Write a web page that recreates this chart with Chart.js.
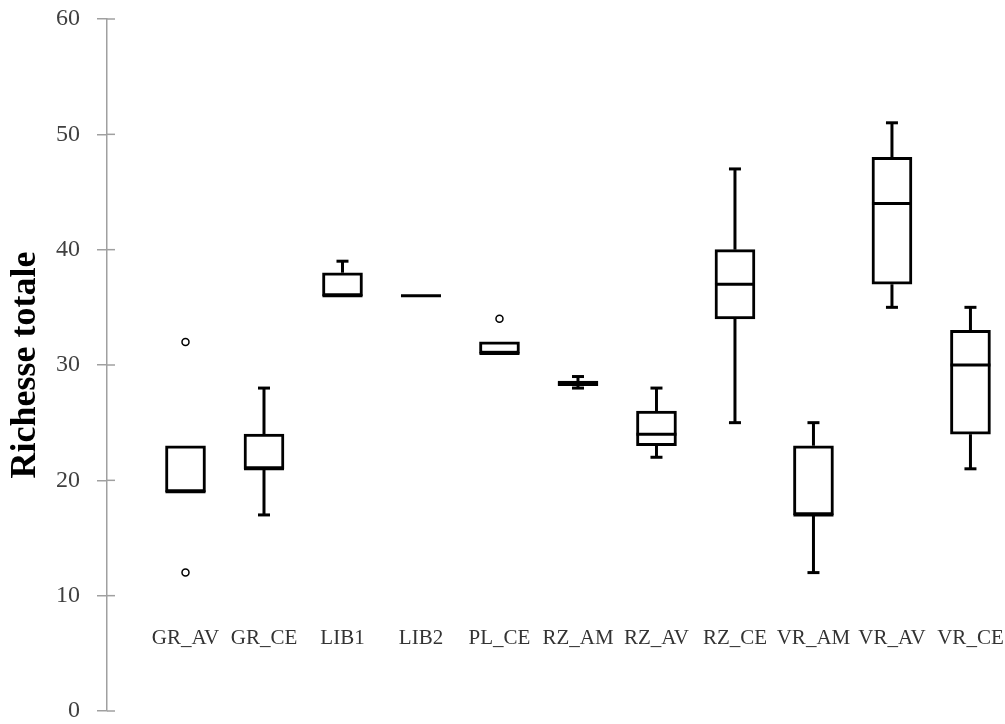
<!DOCTYPE html>
<html>
<head>
<meta charset="utf-8">
<script src="https://cdn.jsdelivr.net/npm/chart.js@4/dist/chart.umd.min.js"></script>
<style>
  html, body { margin: 0; padding: 0; background: #fff; }
  #wrap { width: 1005px; height: 724px; }
</style>
</head>
<body>
<div id="wrap"><canvas id="chart"></canvas></div>
<script>
const sites = ['GR_AV', 'GR_CE', 'LIB1', 'LIB2', 'PL_CE', 'RZ_AM', 'RZ_AV', 'RZ_CE', 'VR_AM', 'VR_AV', 'VR_CE'];
const mins    = [19, 17, 36, 36, 31, 28,   22, 25, 12, 35, 21];
const q1s     = [19, 21, 36, 36, 31, 28.2, 23, 34, 17, 37, 24];
const medians = [19, 21, 36, 36, 31, 28.4, 24, 37, 17, 44, 30];
const q3s     = [23, 24, 38, 36, 32, 28.6, 26, 40, 23, 48, 33];
const maxs    = [23, 28, 39, 36, 32, 29,   28, 47, 25, 51, 35];
// outliers: [site index, value]
const outliers = [[0, 32], [0, 12], [4, 34]];
const yTicks = [0, 10, 20, 30, 40, 50, 60];

const BOX_W = 40;
const CAP_W = 12;

// whiskers, medians, and the inner half of the y tick marks
const boxExtras = {
  id: 'boxExtras',
  afterDatasetsDraw(chart) {
    const ctx = chart.ctx;
    const x = chart.scales.x, y = chart.scales.y;
    ctx.save();
    ctx.strokeStyle = '#000';
    ctx.lineWidth = 3;
    ctx.lineCap = 'butt';
    const seg = (x1, y1, x2, y2) => {
      ctx.beginPath(); ctx.moveTo(x1, y1); ctx.lineTo(x2, y2); ctx.stroke();
    };
    sites.forEach((s, i) => {
      const px = x.getPixelForValue(i);
      if (maxs[i] > q3s[i]) {
        seg(px, y.getPixelForValue(q3s[i]), px, y.getPixelForValue(maxs[i]));
        seg(px - CAP_W / 2, y.getPixelForValue(maxs[i]), px + CAP_W / 2, y.getPixelForValue(maxs[i]));
      }
      if (mins[i] < q1s[i]) {
        seg(px, y.getPixelForValue(q1s[i]), px, y.getPixelForValue(mins[i]));
        seg(px - CAP_W / 2, y.getPixelForValue(mins[i]), px + CAP_W / 2, y.getPixelForValue(mins[i]));
      }
      seg(px - BOX_W / 2, y.getPixelForValue(medians[i]), px + BOX_W / 2, y.getPixelForValue(medians[i]));
    });
    ctx.strokeStyle = '#a0a0a0';
    ctx.lineWidth = 1.5;
    yTicks.forEach(v => {
      const py = y.getPixelForValue(v);
      seg(chart.chartArea.left, py, chart.chartArea.left + 8, py);
    });
    ctx.restore();
  }
};

new Chart(document.getElementById('chart'), {
  type: 'bar',
  data: {
    datasets: [
      {
        type: 'bar',
        data: sites.map((s, i) => ({ x: i, y: [q1s[i], q3s[i]] })),
        backgroundColor: '#fff',
        borderColor: '#000',
        borderWidth: 3,
        borderSkipped: false,
        barThickness: BOX_W
      },
      {
        type: 'scatter',
        data: outliers.map(o => ({ x: o[0], y: o[1] })),
        pointStyle: 'circle',
        radius: 3.5,
        backgroundColor: '#fff',
        borderColor: '#000',
        borderWidth: 1.5
      }
    ]
  },
  options: {
    responsive: true,
    maintainAspectRatio: false,
    animation: false,
    layout: { padding: { top: 19, bottom: 13, left: 0, right: 0 } },
    plugins: {
      legend: { display: false },
      tooltip: { enabled: false }
    },
    scales: {
      x: {
        type: 'linear',
        offset: false,
        bounds: 'data',
        min: -1,
        max: 10.37,
        position: { y: 10 },
        grid: { display: false, offset: false },
        border: { display: false },
        afterBuildTicks: (scale) => {
          scale.ticks = sites.map((s, i) => ({ value: i }));
        },
        afterFit: (scale) => {
          scale.paddingLeft = 0; scale.paddingRight = 0;
          scale.paddingTop = 0; scale.paddingBottom = 0;
        },
        ticks: {
          autoSkip: false,
          maxRotation: 0,
          padding: 22,
          color: '#333',
          font: { family: 'Liberation Serif', size: 21 },
          callback: (v) => sites[v]
        }
      },
      y: {
        min: 0,
        max: 60,
        afterFit: (scale) => {
          scale.width = 107;
          scale.paddingTop = 0; scale.paddingBottom = 0;
        },
        grid: { drawOnChartArea: false, tickLength: 10, color: '#a0a0a0', lineWidth: 1.5 },
        border: { color: '#a0a0a0', width: 1.5 },
        ticks: {
          stepSize: 10,
          padding: 17,
          color: '#404040',
          font: { family: 'Liberation Serif', size: 24 }
        },
        title: {
          display: true,
          text: 'Richesse totale',
          color: '#000',
          padding: { top: 4, bottom: 0 },
          font: { family: 'Liberation Serif', size: 36, weight: 'bold' }
        }
      }
    }
  },
  plugins: [boxExtras]
});
</script>
</body>
</html>
